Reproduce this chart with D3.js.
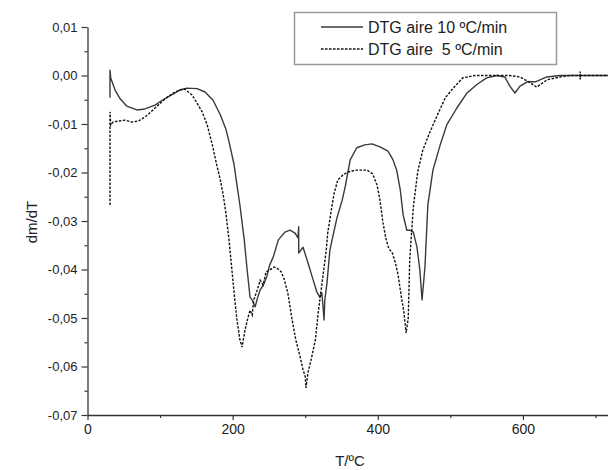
<!DOCTYPE html>
<html>
<head>
<meta charset="utf-8">
<script src="https://cdn.jsdelivr.net/npm/d3@7"></script>
<style>
  body { margin: 0; background: #fff; }
  svg { font-family: "Liberation Sans", Arial, sans-serif; }
</style>
</head>
<body>
<div id="chart"></div>
<script>
// temperatures (ºC) and dm/dT values
const tempFast = [31, 31, 32, 38, 45, 54, 68, 79, 93, 104, 116, 127, 137, 151, 162, 173, 183, 191, 196, 202, 206, 210, 216, 220, 224, 227, 231, 235, 238, 243, 247, 251, 256, 263, 272, 279, 286, 290, 291, 291, 297, 304, 311, 316, 320, 323, 326, 327, 330, 334, 340, 344, 351, 355, 362, 371, 382, 392, 403, 414, 421, 426, 431, 435, 440, 444, 449, 454, 458, 461, 465, 469, 476, 486, 495, 509, 523, 537, 550, 564, 575, 582, 589, 596, 606, 617, 633, 651, 672, 692, 720];
const dtgFast = [-0.0046, 0.0011, -0.0005, -0.0030, -0.0048, -0.0063, -0.0071, -0.0069, -0.0061, -0.0050, -0.0040, -0.0030, -0.0026, -0.0027, -0.0034, -0.0051, -0.0081, -0.0112, -0.0143, -0.0184, -0.0226, -0.0267, -0.0339, -0.0401, -0.0457, -0.0463, -0.0477, -0.0455, -0.0442, -0.0430, -0.0415, -0.0391, -0.0374, -0.0339, -0.0323, -0.0319, -0.0325, -0.0335, -0.0312, -0.0366, -0.0354, -0.0387, -0.0422, -0.0446, -0.0457, -0.0448, -0.0504, -0.0463, -0.0428, -0.0360, -0.0319, -0.0292, -0.0257, -0.0230, -0.0174, -0.0149, -0.0143, -0.0141, -0.0147, -0.0156, -0.0174, -0.0195, -0.0236, -0.0288, -0.0319, -0.0319, -0.0323, -0.0354, -0.0401, -0.0463, -0.0395, -0.0267, -0.0195, -0.0143, -0.0102, -0.0067, -0.0036, -0.0018, -0.0005, 0.0000, -0.0003, -0.0022, -0.0036, -0.0022, -0.0013, -0.0013, -0.0003, 0.0000, 0.0000, 0.0000, 0.0000];

const tempSlow = [31, 31, 32, 35, 42, 52, 61, 70, 79, 86, 96, 107, 116, 127, 134, 139, 144, 151, 158, 165, 172, 178, 183, 187, 191, 195, 199, 203, 206, 210, 213, 217, 221, 224, 227, 229, 234, 238, 242, 246, 251, 257, 261, 267, 271, 276, 282, 287, 293, 297, 300, 301, 304, 308, 314, 318, 322, 325, 329, 331, 336, 340, 345, 352, 359, 371, 385, 393, 399, 403, 407, 411, 415, 420, 424, 428, 432, 436, 439, 442, 444, 449, 455, 462, 472, 482, 493, 504, 517, 534, 550, 568, 582, 596, 610, 619, 633, 651, 665, 679, 679, 679, 679, 699, 720];
const dtgSlow = [-0.0267, -0.0075, -0.0102, -0.0096, -0.0094, -0.0092, -0.0096, -0.0094, -0.0086, -0.0077, -0.0063, -0.0048, -0.0038, -0.0030, -0.0028, -0.0034, -0.0040, -0.0057, -0.0075, -0.0102, -0.0143, -0.0184, -0.0215, -0.0246, -0.0287, -0.0339, -0.0401, -0.0463, -0.0504, -0.0545, -0.0560, -0.0525, -0.0500, -0.0484, -0.0494, -0.0463, -0.0442, -0.0422, -0.0432, -0.0405, -0.0401, -0.0395, -0.0397, -0.0405, -0.0420, -0.0448, -0.0504, -0.0545, -0.0580, -0.0607, -0.0620, -0.0644, -0.0611, -0.0587, -0.0545, -0.0488, -0.0442, -0.0407, -0.0360, -0.0325, -0.0277, -0.0242, -0.0215, -0.0205, -0.0199, -0.0195, -0.0195, -0.0203, -0.0226, -0.0257, -0.0302, -0.0335, -0.0356, -0.0366, -0.0385, -0.0411, -0.0452, -0.0488, -0.0531, -0.0500, -0.0380, -0.0271, -0.0199, -0.0154, -0.0116, -0.0082, -0.0046, -0.0026, -0.0005, 0.0000, 0.0000, 0.0000, 0.0000, -0.0003, -0.0015, -0.0024, -0.0009, -0.0003, 0.0000, 0.0000, 0.0008, -0.0008, 0.0000, 0.0000, 0.0000];

const xTicks = [0, 200, 400, 600];
const xMinor = [100, 300, 500, 700];
const yTicks = [0.01, 0.00, -0.01, -0.02, -0.03, -0.04, -0.05, -0.06, -0.07];
const yMinor = [0.005, -0.005, -0.015, -0.025, -0.035, -0.045, -0.055, -0.065];

const seriesNames = ["DTG aire 10 ºC/min", "DTG aire  5 ºC/min"];

const width = 608, height = 470;

const svg = d3.select("#chart").append("svg")
    .attr("width", width)
    .attr("height", height)

const scX = d3.scaleLinear().domain([0, 720]).range([87.5, 610])
const scY = d3.scaleLinear().domain([-0.07, 0.01]).range([415, 27])

const loc = d3.formatLocale({decimal: ",", thousands: ".", grouping: [3], currency: ["", ""], minus: "-"})
const fmt = loc.format(".2f")

// axes, Origin style: ticks outside, minor ticks between
svg.append("g")
    .attr("transform", `translate(0, ${scY(-0.07)})`)
    .call(d3.axisBottom(scX).tickValues(xTicks).tickSize(5).tickSizeOuter(0).tickPadding(4))
    .call(g => g.selectAll("text").attr("font-size", "14px").attr("fill", "#222").attr("font-family", "Liberation Sans, Arial"))
    .call(g => g.select(".domain").attr("stroke", "#333").attr("stroke-width", 1.3))
    .call(g => g.selectAll(".tick line").attr("stroke", "#333").attr("stroke-width", 1.2))

svg.append("g")
    .attr("transform", `translate(0, ${scY(-0.07)})`)
    .call(d3.axisBottom(scX).tickValues(xMinor).tickSize(3).tickFormat(""))
    .call(g => g.select(".domain").remove())
    .call(g => g.selectAll(".tick line").attr("stroke", "#333").attr("stroke-width", 1.2))

svg.append("g")
    .attr("transform", `translate(${scX(0)}, 0)`)
    .call(d3.axisLeft(scY).tickValues(yTicks).tickSize(6).tickSizeOuter(0).tickPadding(4).tickFormat(fmt))
    .call(g => g.selectAll("text").attr("font-size", "13px").attr("fill", "#222").attr("font-family", "Liberation Sans, Arial"))
    .call(g => g.select(".domain").attr("stroke", "#333").attr("stroke-width", 1.3))
    .call(g => g.selectAll(".tick line").attr("stroke", "#333").attr("stroke-width", 1.2))

svg.append("g")
    .attr("transform", `translate(${scX(0)}, 0)`)
    .call(d3.axisLeft(scY).tickValues(yMinor).tickSize(3).tickFormat(""))
    .call(g => g.select(".domain").remove())
    .call(g => g.selectAll(".tick line").attr("stroke", "#333").attr("stroke-width", 1.2))

// axis titles
svg.append("text")
    .attr("x", 350)
    .attr("y", 466)
    .attr("text-anchor", "middle")
    .attr("font-size", "15px")
    .attr("fill", "#222")
    .text("T/ºC")

svg.append("text")
    .attr("transform", "translate(37, 222) rotate(-90)")
    .attr("text-anchor", "middle")
    .attr("font-size", "15px")
    .attr("fill", "#222")
    .text("dm/dT")

// curves
let line = d3.line()
    .x(d => scX(d[0]))
    .y(d => scY(d[1]))

svg.append("path")
    .datum(d3.zip(tempFast, dtgFast))
    .attr("d", line)
    .attr("fill", "none")
    .attr("stroke", "#3a3a3a")
    .attr("stroke-width", 1.4)
    .attr("stroke-linejoin", "round")

svg.append("path")
    .datum(d3.zip(tempSlow, dtgSlow))
    .attr("d", line)
    .attr("fill", "none")
    .attr("stroke", "#111")
    .attr("stroke-width", 1.4)
    .attr("stroke-dasharray", "2.5,1.5")

// legend
let lg = svg.append("g")
lg.append("rect")
    .attr("x", 294.5)
    .attr("y", 12.5)
    .attr("width", 262)
    .attr("height", 52)
    .attr("fill", "#fff")
    .attr("stroke", "#999")
    .attr("stroke-width", 1.5)

seriesNames.forEach((name, i) => {
    let y = 27 + i * 22
    lg.append("line")
        .attr("x1", 321)
        .attr("x2", 363)
        .attr("y1", y)
        .attr("y2", y)
        .attr("stroke", i == 0 ? "#3a3a3a" : "#111")
        .attr("stroke-width", 1.4)
        .attr("stroke-dasharray", i == 0 ? null : "2.5,1.5")
    lg.append("text")
        .attr("x", 368)
        .attr("y", y + 5.5)
        .attr("font-size", "16px")
        .attr("fill", "#222")
        .style("white-space", "pre")
        .text(name)
})
</script>
</body>
</html>
